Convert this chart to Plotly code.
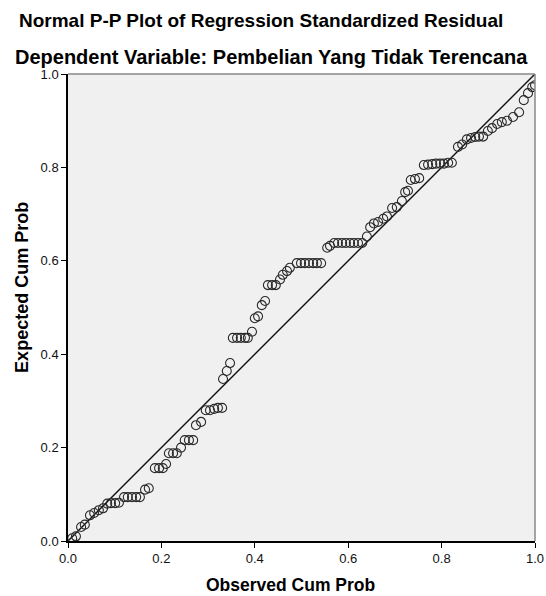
import plotly.graph_objects as go

observed = [0.009, 0.017, 0.028, 0.036, 0.047, 0.056, 0.066, 0.075, 0.084, 0.092, 0.101, 0.109,
            0.120, 0.128, 0.137, 0.146, 0.154, 0.165, 0.173,
            0.186, 0.195, 0.203, 0.210,
            0.216, 0.225, 0.233, 0.242,
            0.250, 0.259, 0.268, 0.274, 0.285,
            0.295, 0.304, 0.313, 0.321, 0.330,
            0.332, 0.340, 0.347,
            0.353, 0.362, 0.370, 0.379, 0.385, 0.394,
            0.400, 0.407, 0.415, 0.422,
            0.428, 0.437, 0.445, 0.454, 0.460, 0.469, 0.475,
            0.490, 0.499, 0.507, 0.516, 0.525, 0.533, 0.542,
            0.555, 0.561,
            0.570, 0.578, 0.587, 0.595, 0.604, 0.612, 0.621, 0.630,
            0.640, 0.647, 0.655, 0.664, 0.675, 0.683,
            0.694, 0.704, 0.715, 0.722, 0.728,
            0.734, 0.743, 0.752,
            0.762, 0.771, 0.780, 0.788, 0.797, 0.805, 0.814, 0.822,
            0.835, 0.844,
            0.854, 0.863, 0.872, 0.880, 0.889,
            0.899, 0.908, 0.919, 0.929, 0.940, 0.953, 0.966,
            0.976, 0.985, 0.994, 1.000]

expected = [0.006, 0.010, 0.030, 0.035, 0.055, 0.060, 0.066, 0.070, 0.080, 0.081, 0.081, 0.082,
            0.094, 0.094, 0.094, 0.094, 0.094, 0.110, 0.113,
            0.156, 0.156, 0.156, 0.165,
            0.188, 0.188, 0.188, 0.200,
            0.216, 0.216, 0.216, 0.248, 0.255,
            0.280, 0.280, 0.283, 0.285, 0.285,
            0.347, 0.364, 0.381,
            0.435, 0.435, 0.435, 0.435, 0.435, 0.448,
            0.477, 0.481, 0.505, 0.514,
            0.548, 0.548, 0.548, 0.560, 0.570, 0.578, 0.585,
            0.595, 0.595, 0.595, 0.595, 0.595, 0.595, 0.595,
            0.628, 0.632,
            0.638, 0.638, 0.638, 0.638, 0.638, 0.638, 0.638, 0.638,
            0.652, 0.672, 0.680, 0.683, 0.690, 0.695,
            0.713, 0.715, 0.728, 0.747, 0.750,
            0.773, 0.775, 0.777,
            0.805, 0.806, 0.807, 0.808, 0.808, 0.808, 0.810, 0.810,
            0.844, 0.849,
            0.860, 0.863, 0.865, 0.866, 0.866,
            0.878, 0.884, 0.893, 0.897, 0.900, 0.908, 0.918,
            0.944, 0.959, 0.972, 0.976]

diag = [0.0, 1.0]
tick_vals = [0.0, 0.2, 0.4, 0.6, 0.8, 1.0]
tick_text = ["0.0", "0.2", "0.4", "0.6", "0.8", "1.0"]

title_main = "Normal P-P Plot of Regression Standardized Residual"
title_sub = "Dependent Variable: Pembelian Yang Tidak Terencana"
x_title = "Observed Cum Prob"
y_title = "Expected Cum Prob"

FONT = "Liberation Sans, Arial, sans-serif"

fig = go.Figure()
fig.add_trace(go.Scatter(x=diag, y=diag, mode="lines",
                         line=dict(color="#111111", width=1.4),
                         hoverinfo="skip", showlegend=False))
fig.add_trace(go.Scatter(x=observed, y=expected, mode="markers",
                         marker=dict(symbol="circle-open", size=9,
                                     color="#2a2a2a", line=dict(width=1.1)),
                         showlegend=False))

fig.update_layout(
    width=546, height=596, autosize=False,
    margin=dict(l=68, r=11, t=74, b=55),
    paper_bgcolor="white",
    plot_bgcolor="#F0F0F0",
    font=dict(family=FONT, color="#000000", size=13),
    showlegend=False,
)
fig.update_xaxes(range=[0, 1], tickvals=tick_vals, ticktext=tick_text,
                 ticks="outside", ticklen=5, tickcolor="#000000", tickwidth=1,
                 showline=True, linecolor="#000000", linewidth=1.5,
                 mirror=False, showgrid=False, zeroline=False, automargin=False,
                 tickfont=dict(size=13, color="#111111"))
fig.update_yaxes(range=[0, 1], tickvals=tick_vals, ticktext=tick_text,
                 ticks="outside", ticklen=5, tickcolor="#000000", tickwidth=1,
                 showline=True, linecolor="#000000", linewidth=1.5,
                 mirror=False, showgrid=False, zeroline=False, automargin=False,
                 tickfont=dict(size=13, color="#111111"))

# top and right frame in gray
fig.add_shape(type="line", xref="paper", yref="paper", x0=0, x1=1, y0=1, y1=1,
              line=dict(color="#888888", width=1.5))
fig.add_shape(type="line", xref="paper", yref="paper", x0=1, x1=1, y0=0, y1=1,
              line=dict(color="#888888", width=1.5))

fig.add_annotation(text="<b>" + title_main + "</b>", xref="paper", yref="paper",
                   x=0.414, y=1.1156, xanchor="center", yanchor="middle",
                   showarrow=False, font=dict(size=19, family=FONT, color="#000000"))
fig.add_annotation(text="<b>" + title_sub + "</b>", xref="paper", yref="paper",
                   x=0.435, y=1.037, xanchor="center", yanchor="middle",
                   showarrow=False, font=dict(size=20, family=FONT, color="#000000"))
fig.add_annotation(text="<b>" + x_title + "</b>", xref="paper", yref="paper",
                   x=0.4775, y=-0.094, xanchor="center", yanchor="middle",
                   showarrow=False, font=dict(size=17.5, family=FONT, color="#000000"))
fig.add_annotation(text="<b>" + y_title + "</b>", xref="paper", yref="paper",
                   x=-0.0985, y=0.542, xanchor="center", yanchor="middle", textangle=-90,
                   showarrow=False, font=dict(size=18, family=FONT, color="#000000"))

fig.write_html("out.html",
               config={"responsive": False, "displayModeBar": False},
               post_script="document.body.style.margin='0';document.body.style.overflow='hidden';")
